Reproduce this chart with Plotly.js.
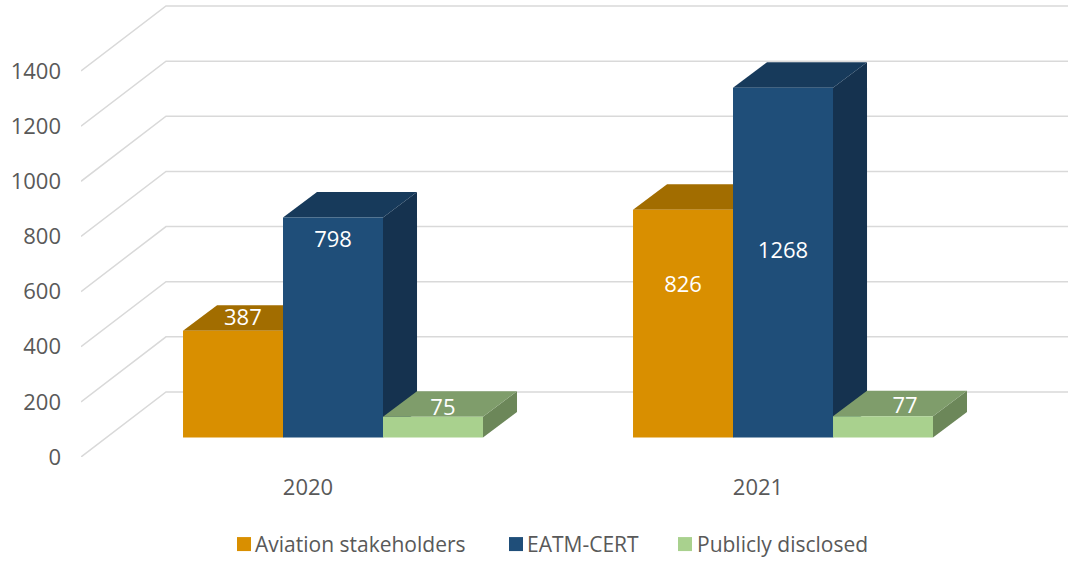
<!DOCTYPE html>
<html>
<head>
<meta charset="utf-8">
<script src="https://cdn.plot.ly/plotly-3.0.1.min.js"></script>
<style>html,body{margin:0;padding:0;background:#fff}#c{width:1076px;height:563px}</style>
</head>
<body>
<div id="c"></div>
<script>
var categories = [0, 1];
var categoryLabels = ['2020', '2021'];
var stakeholders = [387, 826];
var eatmCert = [798, 1268];
var publicly = [75, 77];
var seriesNames = ['Aviation stakeholders', 'EATM-CERT', 'Publicly disclosed'];
var frontColors = ['#D98F00', '#1F4E79', '#A9D18E'];
var topColors = ['#A26D00', '#173A5B', '#7F9D6B'];
var sideColors = ['#A26D00', '#15324F', '#6C8759'];
var yTicks = [0, 200, 400, 600, 800, 1000, 1200, 1400];
var labelHeights = [[497, 620], [780, 740], [174, 178]];
var labelShifts = [[0.022, 0], [0, 0], [0.022, 0.049]];
var legendTextX = [255, 527, 697];
var legendSwatchX = [244, 516, 685];

var xMin = -0.5044, xMax = 1.6889, yMax = 1643;
var barW = 0.2222, floorX = 0.0556, floorY = 71, depthX = 0.0756, depthY = 92.5;
var wallX = 0.1889, wallY = 235.8;
var series = [stakeholders, eatmCert, publicly];
var textCol = '#595959', fontName = '"Open Sans", "Noto Sans", sans-serif';

function poly(pts, color) {
  return {
    type: 'path', xref: 'x', yref: 'y', layer: 'below',
    path: 'M' + pts.map(function (p) { return p[0] + ',' + p[1]; }).join('L') + 'Z',
    fillcolor: color, line: { width: 0 }
  };
}

var shapes = yTicks.map(function (v) {
  return {
    type: 'path', xref: 'x', yref: 'y', layer: 'below',
    path: 'M' + xMin + ',' + v + 'L' + (xMin + wallX) + ',' + (v + wallY) + 'L' + xMax + ',' + (v + wallY),
    line: { color: '#D9D9D9', width: 1.5 }
  };
});

var traces = [], lx = [], ly = [], lt = [];
categories.forEach(function (c, ci) {
  series.forEach(function (vals, si) {
    var cx = c + floorX + (si - 1) * barW;
    var l = cx - barW / 2, r = cx + barW / 2, b = floorY, t = floorY + vals[ci];
    shapes.push(poly([[r, b], [r + depthX, b + depthY], [r + depthX, t + depthY], [r, t]], sideColors[si]));
    shapes.push(poly([[l, t], [r, t], [r + depthX, t + depthY], [l + depthX, t + depthY]], topColors[si]));
    lx.push(cx + labelShifts[si][ci]);
    ly.push(labelHeights[si][ci]);
    lt.push(String(vals[ci]));
  });
});

series.forEach(function (vals, si) {
  traces.push({
    type: 'bar', name: seriesNames[si],
    x: categories.map(function (c) { return c + floorX + (si - 1) * barW; }),
    y: vals, base: floorY, width: barW,
    marker: { color: frontColors[si], line: { width: 0 } },
    hoverinfo: 'y+name'
  });
});
traces.push({
  type: 'scatter', mode: 'text', x: lx, y: ly, text: lt, textposition: 'middle center',
  textfont: { family: fontName, size: 22, color: '#FFFFFF' }, showlegend: false, hoverinfo: 'skip'
});

var layout = {
  width: 1076, height: 563, paper_bgcolor: '#fff', plot_bgcolor: 'rgba(0,0,0,0)',
  margin: { l: 81, r: 8, t: 4, b: 106, pad: 0 },
  barmode: 'overlay', shapes: shapes,
  font: { family: fontName, size: 22, color: textCol },
  xaxis: {
    range: [xMin, xMax], tickmode: 'array', tickvals: categories, ticktext: categoryLabels,
    showgrid: false, zeroline: false, showline: false, ticks: '', ticklabelstandoff: 15,
    tickfont: { family: fontName, size: 22, color: textCol }
  },
  yaxis: {
    range: [0, yMax], tickmode: 'array', tickvals: yTicks,
    showgrid: false, zeroline: false, showline: false, ticks: '', ticklabelstandoff: 19,
    tickfont: { family: fontName, size: 22, color: textCol }
  },
  showlegend: true,
  legend: {
    orientation: 'h', xref: 'paper', yref: 'container', x: 0.5, xanchor: 'center', y: 0.033, yanchor: 'middle',
    font: { family: fontName, size: 21, color: textCol }, traceorder: 'normal', itemclick: false, itemdoubleclick: false
  }
};

Plotly.newPlot('c', traces, layout, { displayModeBar: false, responsive: false }).then(function () {
  var box = document.querySelector('.legend .scrollbox');
  if (box) { box.removeAttribute('clip-path'); box.style.clipPath = 'none'; }
  document.querySelectorAll('.legend .traces').forEach(function (g, i) {
    var text = g.querySelector('.legendtext');
    var dx = legendTextX[i] - text.getBoundingClientRect().left;
    var m = /translate\(([-\d.]+)[ ,]+([-\d.]+)\)/.exec(g.getAttribute('transform'));
    g.setAttribute('transform', 'translate(' + (parseFloat(m[1]) + dx) + ',' + m[2] + ')');
    var p = g.querySelector('.legendpoints path');
    p.setAttribute('d', 'M7,7H-7V-7H7Z');
    var r = p.getBoundingClientRect();
    var shift = legendSwatchX[i] - (r.left + r.right) / 2;
    p.setAttribute('transform', 'translate(' + shift + ',0) ' + (p.getAttribute('transform') || ''));
  });
});
</script>
</body>
</html>
